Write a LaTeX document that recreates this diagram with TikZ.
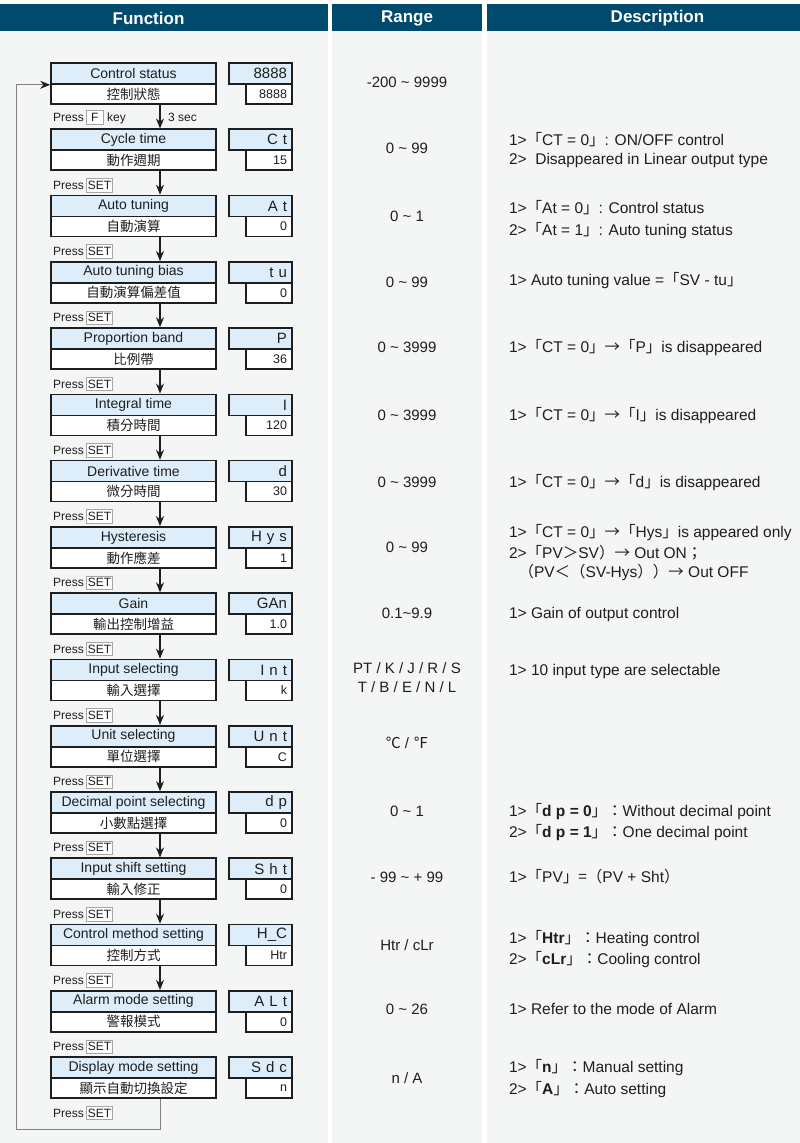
\documentclass[tikz,border=0pt]{standalone}
\usepackage{fontspec}
\setmainfont{Liberation Sans}
\newfontfamily\cjk{Noto Sans CJK TC}
\usetikzlibrary{arrows.meta}
\definecolor{headblue}{RGB}{0,74,110}
\definecolor{boxblue}{RGB}{221,238,250}
\definecolor{pagegray}{RGB}{244,245,245}
\definecolor{ink}{RGB}{30,30,30}
\newcommand{\cj}[1]{{\cjk #1}}
\newcommand{\tild}{\textasciitilde}

\begin{document}
\begin{tikzpicture}[x=1pt,y=-1pt,
  every node/.style={text=ink},
  head/.style={text=white,font=\fontsize{17}{20}\selectfont\bfseries},
  func/.style={draw=ink,line width=1.6pt,fill=boxblue,minimum width=165pt,
    minimum height=21pt,inner sep=0pt,font=\fontsize{14}{16}\selectfont},
  funczh/.style={func,fill=white,minimum height=20pt,font=\cjk\fontsize{13.5}{15}\selectfont},
  code/.style={draw=ink,line width=1.6pt,fill=boxblue,text width=53pt,align=right,
    inner xsep=5pt,inner ysep=0pt,minimum height=21pt,font=\fontsize{15}{17}\selectfont},
  val/.style={code,fill=white,text width=36pt,minimum height=20pt,font=\fontsize{12.5}{14}\selectfont},
  press/.style={anchor=base west,inner sep=0pt,font=\fontsize{12}{14}\selectfont},
  keybox/.style={press,draw=gray!70,line width=.6pt,fill=white,inner xsep=1.5pt,inner ysep=2.5pt},
  flow/.style={draw=ink,line width=1.1pt,-{Stealth[length=10pt,width=8pt]}},
  loopback/.style={draw=gray,line width=1pt,-{Stealth[length=10pt,width=8pt,color=ink]}},
  rangetxt/.style={anchor=base,font=\fontsize{15}{17}\selectfont},
  desc/.style={anchor=base west,font=\fontsize{15.5}{18}\selectfont}]
  \useasboundingbox (0,0) rectangle (800,1143);
  % Page, column bands and header bars.
  \fill[white] (0,0) rectangle (800,1143);
  \fill[pagegray] (0,31) rectangle (328,1143);
  \fill[pagegray] (332,31) rectangle (482,1143);
  \fill[pagegray] (487,31) rectangle (800,1143);
  \fill[headblue] (0,4) rectangle (328,31);
  \fill[headblue] (332,4) rectangle (482,31);
  \fill[headblue] (487,4) rectangle (800,31);
  \node[head] (hfun) at (148.5,18.5) {Function};
  \node[head] (hran) at (407,18.5) {Range};
  \node[head] (hdes) at (657.5,18.5) {Description};
  % Parameter boxes: name and Chinese name, display code and default value.
  \foreach \i/\en/\cn/\cd/\vl in {0/Control status/控制狀態/8888/8888,
      1/Cycle time/動作週期/C t/15, 2/Auto tuning/自動演算/A t/0,
      3/Auto tuning bias/自動演算偏差值/t u/0, 4/Proportion band/比例帶/P/36,
      5/Integral time/積分時間/I/120, 6/Derivative time/微分時間/d/30,
      7/Hysteresis/動作應差/H y s/1, 8/Gain/輸出控制增益/GAn/1.0,
      9/Input selecting/輸入選擇/I n t/k, 10/Unit selecting/單位選擇/U n t/C,
      11/Decimal point selecting/小數點選擇/d p/0, 12/Input shift setting/輸入修正/S h t/0,
      13/Control method setting/控制方式/H\_C/Htr, 14/Alarm mode setting/警報模式/A L t/0,
      15/Display mode setting/顯示自動切換設定/S d c/n} {
    \pgfmathsetmacro{\ytop}{63+66.27*\i}
    \node[func] (f\i) at (133.5,\ytop+10.5) {\en};
    \node[funczh] (c\i) at (133.5,\ytop+31) {\cn};
    \node[code] (v\i) at (260.5,\ytop+10.5) {\cd};
    \node[val] (w\i) at (269,\ytop+31) {\vl};
  }
  % Key hints under each box.
  \node[press] (p0) at (53,121.5) {Press};
  \node[keybox,minimum width=17pt] (k0) at (86,121.5) {F};
  \node[press] (key0) at (107,121.5) {key};
  \node[press] (sec0) at (168,121.5) {3 sec};
  \foreach \i in {1,...,15} {
    \pgfmathsetmacro{\yb}{63+66.27*\i+60}
    \node[press] (p\i) at (53,\yb) {Press};
    \node[keybox] (k\i) at (86,\yb) {SET};
  }
  % Flow arrows (none between alarm and display mode).
  \foreach \i [evaluate=\i as \j using int(\i+1)] in {0,...,13}
    \draw[flow] ([xshift=26.5pt]c\i.south) -- ([xshift=26.5pt]f\j.north);
  \coordinate (back) at (16,1129);
  \draw[loopback] ([xshift=26.5pt]c15.south) |- (back) |- (f0.south west);
  % Ranges.
  \node[rangetxt] (r0) at (407,87.5) {-200 \tild{} 9999};
  \node[rangetxt] (r1) at (407,153.5) {0 \tild{} 99};
  \node[rangetxt] (r2) at (407,221.5) {0 \tild{} 1};
  \node[rangetxt] (r3) at (407,287.5) {0 \tild{} 99};
  \node[rangetxt] (r4) at (407,352.5) {0 \tild{} 3999};
  \node[rangetxt] (r5) at (407,420.5) {0 \tild{} 3999};
  \node[rangetxt] (r6) at (407,487.5) {0 \tild{} 3999};
  \node[rangetxt] (r7) at (407,552.5) {0 \tild{} 99};
  \node[rangetxt] (r8) at (407,618.5) {0.1\tild{}9.9};
  \node[rangetxt] (r9) at (407,673.5) {PT / K / J / R / S};
  \node[rangetxt] (r9b) at (407,692.5) {T / B / E / N / L};
  \node[rangetxt] (r10) at (407,748.5) {\cj{℃} / \cj{℉}};
  \node[rangetxt] (r11) at (407,816.5) {0 \tild{} 1};
  \node[rangetxt] (r12) at (407,882.5) {- 99 \tild{} + 99};
  \node[rangetxt] (r13) at (407,950.5) {Htr / cLr};
  \node[rangetxt] (r14) at (407,1014.5) {0 \tild{} 26};
  \node[rangetxt] (r15) at (407,1083.5) {n / A};
  % Descriptions.
  \node[desc] (d1) at (505.5,145.5) {1>\cj{「}CT = 0\cj{」}: ON/OFF control};
  \node[desc] (d1b) at (505.5,164.5) {2>\ \ Disappeared in Linear output type};
  \node[desc] (d2) at (505.5,213.5) {1>\cj{「}At = 0\cj{」}: Control status};
  \node[desc] (d2b) at (505.5,235.5) {2>\cj{「}At = 1\cj{」}: Auto tuning status};
  \node[desc] (d3) at (505.5,285.5) {1> Auto tuning value =\cj{「}SV - tu\cj{」}};
  \node[desc] (d4) at (505.5,352.5) {1>\cj{「}CT = 0\cj{」→「}P\cj{」}is disappeared};
  \node[desc] (d5) at (505.5,420.5) {1>\cj{「}CT = 0\cj{」→「}I\cj{」}is disappeared};
  \node[desc] (d6) at (505.5,487.5) {1>\cj{「}CT = 0\cj{」→「}d\cj{」}is disappeared};
  \node[desc] (d7) at (505.5,537.5) {1>\cj{「}CT = 0\cj{」→「}Hys\cj{」}is appeared only};
  \node[desc] (d7b) at (505.5,558.5) {2>\cj{「}PV\cj{＞}SV\cj{）→} Out ON\cj{；}};
  \node[desc] (d7c) at (515,577.5) {\cj{（}PV\cj{＜（}SV-Hys\cj{））→} Out OFF};
  \node[desc] (d8) at (505.5,618.5) {1> Gain of output control};
  \node[desc] (d9) at (505.5,675.5) {1> 10 input type are selectable};
  \node[desc] (d11) at (505.5,816.5) {1>\cj{「}\textbf{d p = 0}\cj{」：}Without decimal point};
  \node[desc] (d11b) at (505.5,837.5) {2>\cj{「}\textbf{d p = 1}\cj{」：}One decimal point};
  \node[desc] (d12) at (505.5,882.5) {1>\cj{「}PV\cj{」=（}PV + Sht\cj{）}};
  \node[desc] (d13) at (505.5,943.5) {1>\cj{「}\textbf{Htr}\cj{」：}Heating control};
  \node[desc] (d13b) at (505.5,964.5) {2>\cj{「}\textbf{cLr}\cj{」：}Cooling control};
  \node[desc] (d14) at (505.5,1014.5) {1> Refer to the mode of Alarm};
  \node[desc] (d15) at (505.5,1072.5) {1>\cj{「}\textbf{n}\cj{」：}Manual setting};
  \node[desc] (d15b) at (505.5,1094.5) {2>\cj{「}\textbf{A}\cj{」：}Auto setting};
\end{tikzpicture}
\end{document}
